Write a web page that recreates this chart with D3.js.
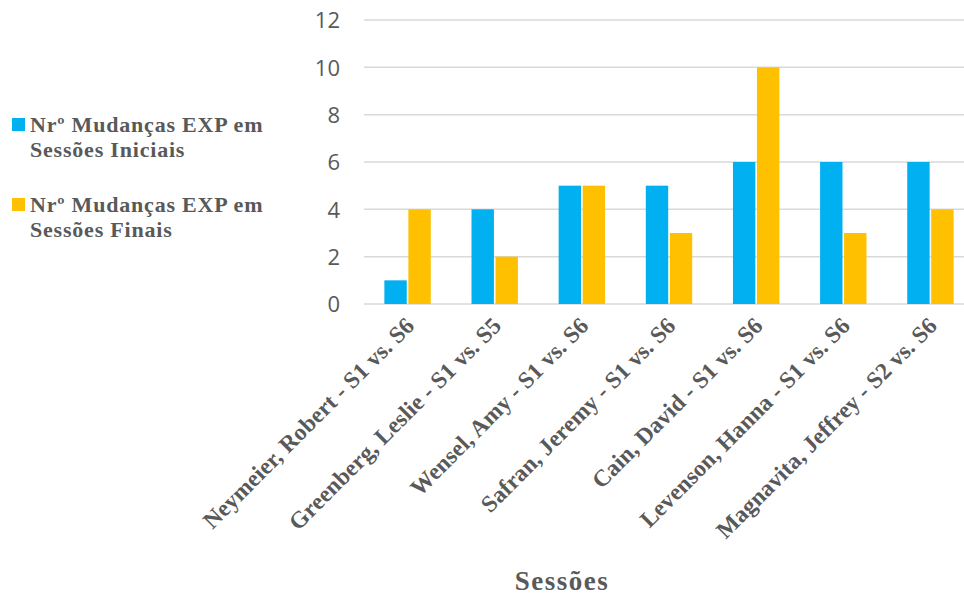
<!DOCTYPE html>
<html>
<head>
<meta charset="utf-8">
<script src="https://cdn.jsdelivr.net/npm/d3@7"></script>
<style>
  html, body { margin: 0; padding: 0; background: #fff; }
  svg { display: block; }
  .serif { font-family: "Liberation Serif", "Times New Roman", serif; font-weight: bold; }
</style>
</head>
<body>
<svg id="chart" width="964" height="595"></svg>
<script>
// Sessions compared for each therapist
const categories = [
  "Neymeier, Robert - S1 vs. S6",
  "Greenberg, Leslie - S1 vs. S5",
  "Wensel, Amy - S1 vs. S6",
  "Safran, Jeremy - S1 vs. S6",
  "Cain, David - S1 vs. S6",
  "Levenson, Hanna - S1 vs. S6",
  "Magnavita, Jeffrey - S2 vs. S6"
];
const initialSessions = [1, 4, 5, 5, 6, 6, 6];
const finalSessions   = [4, 2, 5, 3, 10, 3, 4];
const seriesNames = [
  ["Nrº Mudanças EXP em", "Sessões Iniciais"],
  ["Nrº Mudanças EXP em", "Sessões Finais"]
];
const yTicks = [0, 2, 4, 6, 8, 10, 12];
const axisTitle = "Sessões";

const colors = ["#00B0F0", "#FFC000"];
const textColor = "#595959";
const gridColor = "#D9D9D9";

const svg = d3.select("#chart");

const x = d3.scaleBand().domain(categories).range([364, 974]).padding(0);
const y = d3.scaleLinear().domain([0, 12]).range([304, 20]);

// Horizontal gridlines
svg.append("g")
  .selectAll("line")
  .data(yTicks)
  .join("line")
  .attr("x1", 364).attr("x2", 974)
  .attr("y1", d => y(d)).attr("y2", d => y(d))
  .attr("stroke", gridColor)
  .attr("stroke-width", 1.5);

// Y axis labels
const yAxis = d3.axisLeft(y).tickValues(yTicks).tickSize(0).tickPadding(0);
const gy = svg.append("g").attr("transform", "translate(340,0)").call(yAxis);
gy.select(".domain").remove();
gy.selectAll("text")
  .attr("fill", textColor)
  .attr("font-family", "'Open Sans', 'Liberation Sans', sans-serif")
  .attr("font-size", 22)
  .attr("dy", "0.36em");

// Bars
const barW = 22.4, gap = 1.6;
const series = [initialSessions, finalSessions];
series.forEach((vals, si) => {
  svg.append("g")
    .selectAll("rect")
    .data(vals.map((v, i) => ({ cat: categories[i], v })))
    .join("rect")
    .attr("x", d => {
      const c = x(d.cat) + x.bandwidth() / 2;
      return si === 0 ? c - gap / 2 - barW : c + gap / 2;
    })
    .attr("y", d => y(d.v))
    .attr("width", barW)
    .attr("height", d => y(0) - y(d.v))
    .attr("fill", colors[si]);
});

// Category labels rotated along the axis
const labelG = svg.append("g");
categories.forEach(c => {
  const cx = x(c) + x.bandwidth() / 2 + 8;
  labelG.append("text")
    .attr("class", "serif")
    .attr("transform", `translate(${cx},${327}) rotate(-45)`)
    .attr("text-anchor", "end")
    .attr("fill", textColor)
    .attr("font-size", 23.5)
    .attr("letter-spacing", 0.1)
    .text(c);
});

// Axis title
svg.append("text")
  .attr("class", "serif")
  .attr("x", 562).attr("y", 590)
  .attr("text-anchor", "middle")
  .attr("fill", textColor)
  .attr("font-size", 27)
  .attr("letter-spacing", 1.5)
  .text(axisTitle);

// Legend
const legendTop = [132, 212];
seriesNames.forEach((lines, i) => {
  const g = svg.append("g");
  g.append("rect")
    .attr("x", 12).attr("y", legendTop[i] - 14)
    .attr("width", 13).attr("height", 13)
    .attr("fill", colors[i]);
  const t = g.append("text")
    .attr("class", "serif")
    .attr("x", 30).attr("y", legendTop[i])
    .attr("fill", textColor)
    .attr("font-size", 22)
    .attr("letter-spacing", 0.8);
  lines.forEach((ln, k) => {
    t.append("tspan").attr("x", 30).attr("dy", k === 0 ? 0 : 25).text(ln);
  });
});
</script>
</body>
</html>
